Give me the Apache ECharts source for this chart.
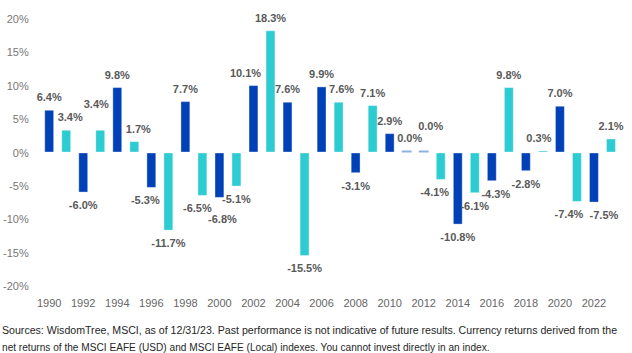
<!DOCTYPE html>
<html>
<head>
<meta charset="utf-8">
<script src="https://cdn.jsdelivr.net/npm/echarts@6/dist/echarts.min.js"></script>
<style>
  html, body { margin: 0; padding: 0; background: #fff; }
  #chart { width: 632px; height: 353px; }
</style>
</head>
<body>
<div id="chart"></div>
<script>
(function() {
  var years = [];
  for (var y = 1990; y <= 2023; y++) years.push(String(y));

  // yearly currency return, %
  var returns = [6.4, 3.4, -6.0, 3.4, 9.8, 1.7, -5.3, -11.7, 7.7, -6.5,
                 -6.8, -5.1, 10.1, 18.3, 7.6, -15.5, 9.9, 7.6, -3.1, 7.1,
                 2.9, 0.0, 0.0, -4.1, -10.8, -6.1, -4.3, 9.8, -2.8, 0.3,
                 7.0, -7.4, -7.5, 2.1];

  var yTicks = [-20, -15, -10, -5, 0, 5, 10, 15, 20];

  var note1 = 'Sources: WisdomTree, MSCI, as of 12/31/23. Past performance is not indicative of future results. Currency returns derived from the';
  var note2 = 'net returns of the MSCI EAFE (USD) and MSCI EAFE (Local) indexes. You cannot invest directly in an index.';

  // label nudges (px) so the labels sit like in the original, avoiding overlaps
  var labelShift = {
    '1991': [4, 0], '1993': [-4, -13], '1995': [4, 0], '1996': [-6, 0],
    '1999': [-5, 0], '2000': [3, 9], '2002': [-8, 0], '2007': [3, 0],
    '2011': [3, 0], '2012': [7, -12], '2013': [-6, 0], '2016': [4, 0],
    '2019': [-4, 0], '2021': [-8, 0], '2022': [10, 0]
  };

  var dark = '#0041b8';
  var cyan = '#2dcbd2';
  var zero = '#8fb0e0';
  var labelColor = '#595959';

  // squeeze the footnote to the width of the original (condensed font there)
  var ctx = document.createElement('canvas').getContext('2d');
  ctx.font = '11.5px "Liberation Sans"';
  var scale1 = 616 / ctx.measureText(note1).width;
  var scale2 = 488 / ctx.measureText(note2).width;

  var chart = echarts.init(document.getElementById('chart'), null, { renderer: 'svg' });
  chart.setOption({
    animation: false,
    grid: { left: 39.5, right: 12.5, top: 19, bottom: 67 },
    xAxis: {
      type: 'category',
      data: years,
      axisLine: { show: false, onZero: false },
      axisTick: { show: false },
      axisLabel: { color: '#666', fontSize: 11, fontFamily: 'Liberation Sans', interval: 1, margin: 11 }
    },
    yAxis: {
      type: 'value',
      min: yTicks[0], max: yTicks[yTicks.length - 1], interval: 5,
      splitLine: { show: false },
      axisLine: { show: false },
      axisTick: { show: false },
      axisLabel: { color: '#777', fontSize: 11, fontFamily: 'Liberation Sans', margin: 12,
        formatter: function(v) { return v + '%'; } }
    },
    series: [{
      type: 'bar',
      barWidth: '58%',
      barMinHeight: 2,
      data: returns.map(function(v, i) {
        var c = v === 0 ? zero : (i % 2 === 0 ? dark : cyan);
        return {
          value: v,
          itemStyle: { color: c, borderColor: 'rgba(255,255,255,0.35)', borderWidth: v === 0 ? 0 : 1 },
          label: { position: v < 0 ? 'bottom' : 'top', offset: labelShift[years[i]] || [0, 0] }
        };
      }),
      label: {
        show: true, distance: 7, color: labelColor, fontSize: 11, fontWeight: 'bold',
        fontFamily: 'Liberation Sans',
        formatter: function(p) { return p.value.toFixed(1) + '%'; }
      }
    }],
    graphic: [
      { type: 'text', x: 2, y: 324, scaleX: scale1, style: {
        text: note1, fill: '#262626', fontSize: 11.5, fontFamily: 'Liberation Sans' } },
      { type: 'text', x: 2, y: 341, scaleX: scale2, style: {
        text: note2, fill: '#262626', fontSize: 11.5, fontFamily: 'Liberation Sans' } }
    ]
  });
})();
</script>
</body>
</html>
